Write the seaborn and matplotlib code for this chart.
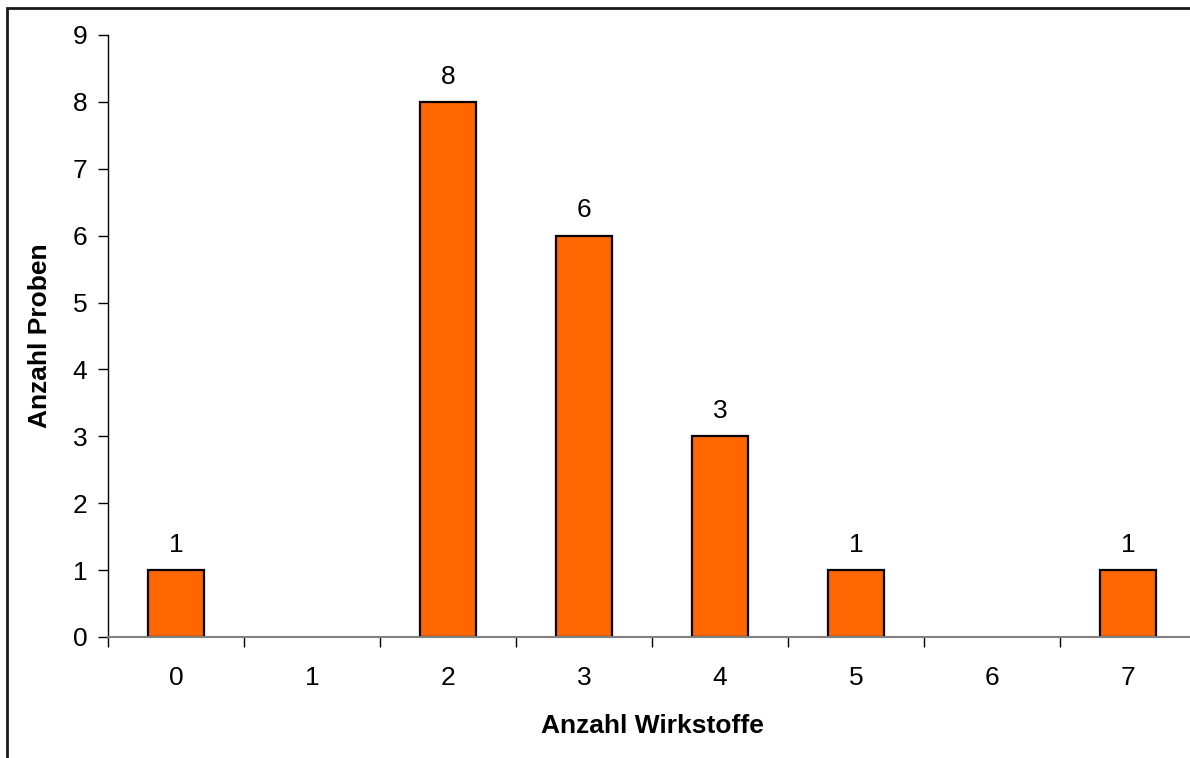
import matplotlib
matplotlib.use("Agg")
import matplotlib.pyplot as plt
import seaborn as sns
import pandas as pd
from matplotlib.patches import Rectangle

# Anzahl Proben je Anzahl nachgewiesener Wirkstoffe
wirkstoffe = ["0", "1", "2", "3", "4", "5", "6", "7"]
proben = [1, 0, 8, 6, 3, 1, 0, 1]

df = pd.DataFrame({"Wirkstoffe": wirkstoffe, "Proben": proben})

sns.set_style("white")
plt.rcParams["font.family"] = ["Liberation Sans", "DejaVu Sans"]
plt.rcParams["text.color"] = "black"
plt.rcParams["axes.labelcolor"] = "black"
plt.rcParams["xtick.color"] = "black"
plt.rcParams["ytick.color"] = "black"

FS = 19

fig = plt.figure(figsize=(11.90, 7.58), dpi=100)
ax = fig.add_axes([108 / 1190, 1 - 637 / 758, (1196 - 108) / 1190, (637 - 35) / 758])

sns.barplot(data=df, x="Wirkstoffe", y="Proben", order=wirkstoffe,
            color="#FF6600", saturation=1, width=0.41,
            edgecolor="black", linewidth=1.6, ax=ax)

# Leere Kategorien ohne Rahmen zeichnen, Werte über die übrigen Balken schreiben
for patch, val in zip(ax.patches, proben):
    if val == 0:
        patch.set_linewidth(0)
    else:
        ax.annotate(str(val), (patch.get_x() + patch.get_width() / 2, val),
                    xytext=(0, 9.5), textcoords="offset points",
                    ha="center", va="bottom", fontsize=FS)

ax.set_xlim(-0.5, len(wirkstoffe) - 0.5)
ax.set_ylim(0, 9)
ax.set_yticks(range(0, 10))
ax.tick_params(axis="y", which="major", direction="out", length=7, width=1,
               color="black", labelsize=FS, pad=8, left=True)
ax.tick_params(axis="x", which="major", length=0, labelsize=FS, pad=21)
ax.set_xticks([i - 0.5 for i in range(len(wirkstoffe))], minor=True)
ax.tick_params(axis="x", which="minor", direction="out", length=7, width=1,
               color="black", bottom=True)

for side in ("top", "right"):
    ax.spines[side].set_visible(False)
ax.spines["left"].set_color("black")
ax.spines["left"].set_linewidth(1)
ax.spines["bottom"].set_color("#808080")
ax.spines["bottom"].set_linewidth(1.5)

ax.set_xlabel("Anzahl Wirkstoffe", fontsize=FS, fontweight="bold", labelpad=17)
ax.set_ylabel("Anzahl Proben", fontsize=FS, fontweight="bold", labelpad=15)

# Diagrammrahmen
fig.patches.append(Rectangle((7 / 1190, -0.05), 1.1, 1 - 8 / 758 + 0.05,
                             transform=fig.transFigure, fill=False,
                             edgecolor="#1a1a1a", linewidth=2, zorder=-1))

fig.savefig("out.png", dpi=100)
